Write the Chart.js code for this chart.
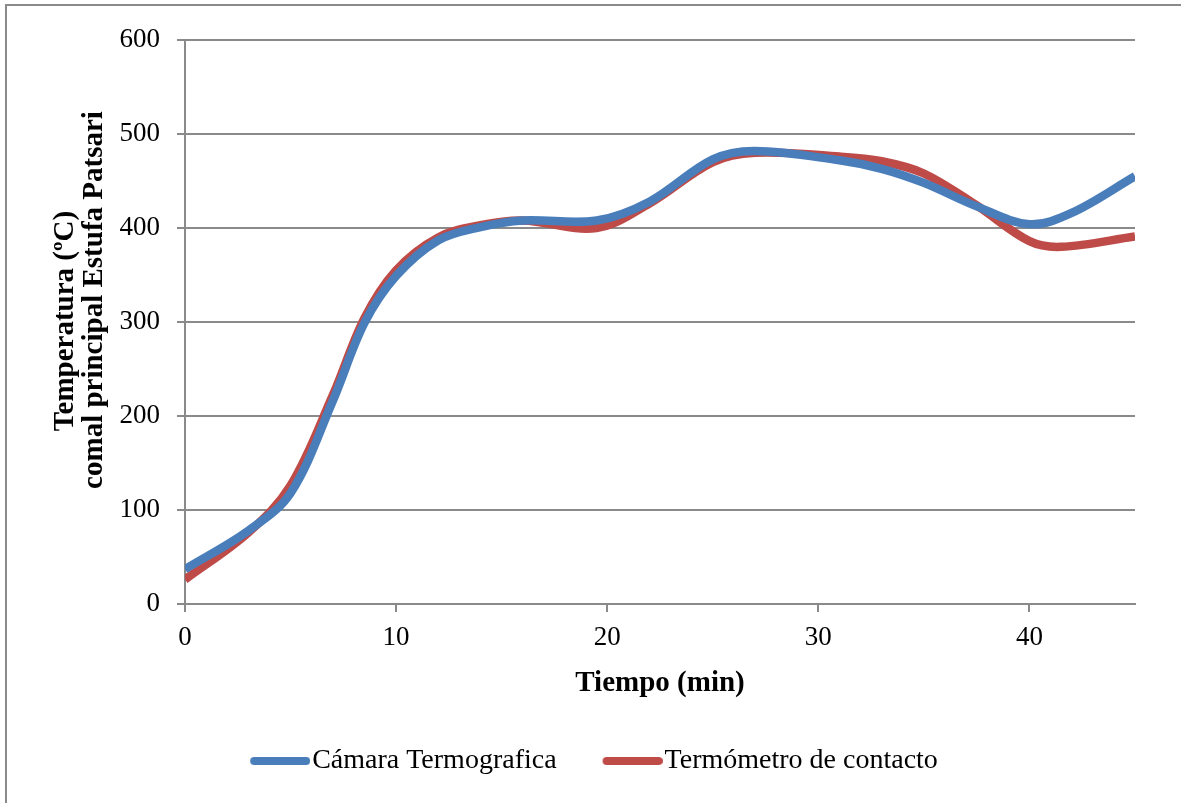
<!DOCTYPE html>
<html>
<head>
<meta charset="utf-8">
<script src="https://cdn.jsdelivr.net/npm/chart.js@4.4.1/dist/chart.umd.min.js"></script>
<style>
  html, body { margin: 0; padding: 0; background: #ffffff; }
  canvas { display: block; }
</style>
</head>
<body>
<canvas id="chart" width="1181" height="803"></canvas>
<script>
// Temperatura del comal principal (estufa Patsari) frente al tiempo
const seriesNames = ['Cámara Termografica', 'Termómetro de contacto'];

const camaraTiempo = [0, 3, 5, 7, 8.5, 10, 12, 14, 16, 19.5, 22, 25, 27, 31, 33, 35, 37.5, 40, 42, 45];
const camaraTemp   = [37, 78, 118, 216, 299, 349, 387, 401, 408, 408, 428, 473, 482, 472, 463, 448, 423, 404, 416, 455];

const termoTiempo = [0, 3, 5, 7, 8.5, 10, 12, 14, 16, 19.5, 22, 25, 27, 31, 33, 35, 37.5, 40, 41.5, 45];
const termoTemp   = [26, 76, 126, 222, 304, 355, 390, 403, 408, 400, 426, 470, 480, 476, 471, 458, 424, 386, 380, 391];

const xTicks = [0, 10, 20, 30, 40];
const yTicks = [0, 100, 200, 300, 400, 500, 600];

const xTitle = 'Tiempo (min)';
const yTitleLines = ['Temperatura (ºC)', 'comal principal Estufa Patsari'];

const toPoints = (xs, ys) => xs.map((x, i) => ({ x: x, y: ys[i] }));

const AXIS_GREY = '#8a8a8a';
const SERIF = '"Liberation Serif", "Times New Roman", serif';
const PAD = { left: 17, right: 46, top: 40, bottom: 18 };
const PLOT_BOTTOM = 604;

// Legend key: a short rounded stroke sitting at the right end of a wider, transparent tile,
// so that it ends right next to the label text.
const KEY_W = 84;
function legendKey(color) {
  const c = document.createElement('canvas');
  c.width = KEY_W + 24;
  c.height = 10;
  const g = c.getContext('2d');
  g.strokeStyle = color;
  g.lineWidth = 8;
  g.lineCap = 'round';
  g.beginPath();
  g.moveTo(c.width - 60 + 4, 5);
  g.lineTo(c.width - 4, 5);
  g.stroke();
  return c;
}

// White page, partial outer frame and the axis titles
const framePlugin = {
  id: 'frameAndTitles',
  beforeDraw(chart) {
    const ctx = chart.ctx;
    ctx.save();
    ctx.fillStyle = '#ffffff';
    ctx.fillRect(0, 0, chart.width, chart.height);
    ctx.strokeStyle = AXIS_GREY;
    ctx.lineWidth = 2;
    ctx.beginPath();
    ctx.moveTo(6, chart.height);
    ctx.lineTo(6, 5);
    ctx.lineTo(chart.width, 5);
    ctx.stroke();
    ctx.restore();
  },
  afterDraw(chart) {
    const ctx = chart.ctx;
    const area = chart.chartArea;
    ctx.save();
    ctx.fillStyle = '#000000';
    ctx.font = 'bold 29px ' + SERIF;
    ctx.textAlign = 'center';
    ctx.textBaseline = 'alphabetic';
    ctx.fillText(xTitle, (area.left + area.right) / 2, 691);

    const lineX = [73, 102];
    const lineY = [321, 300];
    yTitleLines.forEach((txt, i) => {
      ctx.save();
      ctx.translate(lineX[i], lineY[i]);
      ctx.rotate(-Math.PI / 2);
      ctx.fillText(txt, 0, 0);
      ctx.restore();
    });
    ctx.restore();
  }
};

new Chart(document.getElementById('chart'), {
  type: 'line',
  data: {
    datasets: [
      {
        label: seriesNames[0],
        data: toPoints(camaraTiempo, camaraTemp),
        borderColor: '#4a7ebb',
        backgroundColor: '#4a7ebb',
        borderWidth: 8.5,
        pointRadius: 0,
        tension: 0.35,
        borderCapStyle: 'butt',
        borderJoinStyle: 'round'
      },
      {
        label: seriesNames[1],
        data: toPoints(termoTiempo, termoTemp),
        borderColor: '#be4b48',
        backgroundColor: '#be4b48',
        borderWidth: 8.5,
        pointRadius: 0,
        tension: 0.35,
        borderCapStyle: 'butt',
        borderJoinStyle: 'round'
      }
    ]
  },
  options: {
    responsive: false,
    animation: false,
    layout: { padding: PAD },
    plugins: {
      tooltip: { enabled: false },
      legend: {
        position: 'bottom',
        labels: {
          font: { family: SERIF, size: 28 },
          color: '#000000',
          usePointStyle: true,
          pointStyleWidth: KEY_W,
          padding: 10,
          generateLabels(chart) {
            return chart.data.datasets.map((ds, i) => ({
              text: ds.label,
              pointStyle: legendKey(ds.borderColor),
              fillStyle: ds.borderColor,
              strokeStyle: ds.borderColor,
              lineWidth: 0,
              hidden: false,
              datasetIndex: i,
              fontColor: '#000000'
            }));
          }
        }
      }
    },
    scales: {
      x: {
        type: 'linear',
        min: 0,
        max: 45,
        afterFit(scale) {
          const lg = scale.chart.legend ? scale.chart.legend.height : 0;
          scale.height = scale.chart.height - PAD.bottom - lg - PLOT_BOTTOM;
        },
        afterBuildTicks(scale) { scale.ticks = xTicks.map(v => ({ value: v })); },
        ticks: {
          font: { family: SERIF, size: 27 },
          color: '#000000',
          padding: 10
        },
        grid: {
          drawOnChartArea: false,
          drawTicks: true,
          tickLength: 8,
          color: AXIS_GREY,
          lineWidth: 2
        },
        border: { display: true, color: AXIS_GREY, width: 2 }
      },
      y: {
        min: 0,
        max: 600,
        afterFit(scale) { scale.width = 185 - PAD.left; },
        afterBuildTicks(scale) { scale.ticks = yTicks.map(v => ({ value: v })); },
        ticks: {
          font: { family: SERIF, size: 27 },
          color: '#000000',
          padding: 17
        },
        grid: {
          drawTicks: true,
          tickLength: 8,
          color: AXIS_GREY,
          lineWidth: 2
        },
        border: { display: true, color: AXIS_GREY, width: 2 }
      }
    }
  },
  plugins: [framePlugin]
});
</script>
</body>
</html>
